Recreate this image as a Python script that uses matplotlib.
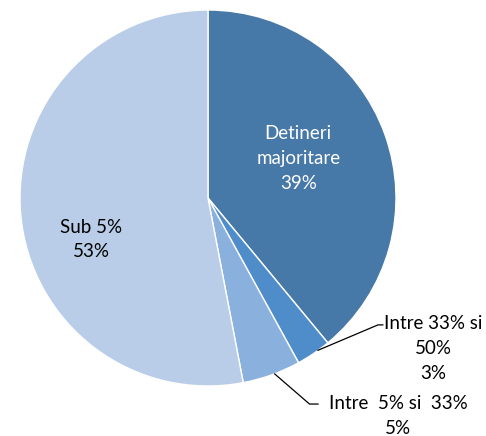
import matplotlib
matplotlib.use("Agg")
import matplotlib.pyplot as plt

# data
categories = ["Detineri\nmajoritare", "Intre 33% si\n50%", "Intre  5% si  33%", "Sub 5%"]
shares = [39, 3, 5, 53]
colors = ["#4678A8", "#4F8DCA", "#8AB0DD", "#B9CDE8"]

plt.rcParams["font.family"] = ["Lato", "DejaVu Sans"]

fig = plt.figure(figsize=(4.86, 4.36), dpi=100)
# pie centre (208,198) px, radius 188 px
ax = fig.add_axes([20 / 486, 50 / 436, 376 / 486, 376 / 436])
wedges, _ = ax.pie(shares, colors=colors, startangle=90, counterclock=False,
                   radius=1, wedgeprops=dict(edgecolor="white", linewidth=1))
ax.set_xlim(-1, 1); ax.set_ylim(-1, 1)
ax.set_aspect("auto")
ax.axis("off")

fs = 13.5
ls = 1.55
ax.text(0.48, 0.21, f"{categories[0]}\n{shares[0]}%", ha="center", va="center",
        color="white", fontsize=fs, linespacing=ls)
ax.text(-0.62, -0.22, f"{categories[3]}\n{shares[3]}%", ha="center", va="center",
        color="black", fontsize=fs, linespacing=ls)

# outside labels with leader lines
ax.plot([0.585, 0.904, 0.93], [-0.81, -0.675, -0.675], color="black", lw=0.9,
        clip_on=False)
ax.text(1.20, -0.80, f"{categories[1]}\n{shares[1]}%", ha="center", va="center",
        color="black", fontsize=fs, linespacing=ls, clip_on=False)
ax.plot([0.355, 0.54, 0.585], [-0.936, -1.096, -1.096], color="black", lw=0.9,
        clip_on=False)
ax.text(1.01, -1.16, f"{categories[2]}\n{shares[2]}%", ha="center", va="center",
        color="black", fontsize=fs, linespacing=ls, clip_on=False)

fig.savefig("out.png", dpi=100)
